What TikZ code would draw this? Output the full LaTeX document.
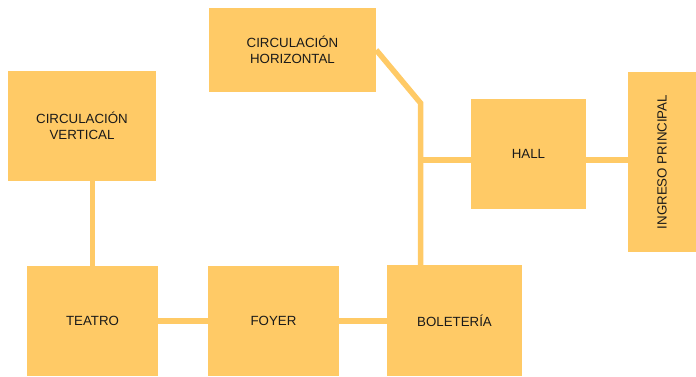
\documentclass[tikz,border=0pt]{standalone}
\usepackage{fontspec}
\setmainfont{Liberation Sans}
\usepackage{tikz}
\usetikzlibrary{positioning, calc}

\definecolor{zona}{HTML}{FFCA66}
\definecolor{texto}{HTML}{1A1A1A}

\begin{document}
\begin{tikzpicture}[x=1pt, y=-1pt,
        box/.style={rectangle, fill=zona, inner sep=0pt, align=center, text=texto, font=\fontsize{13.3}{15.8}\selectfont},
        link/.style={draw=zona, line width=5.5pt, line join=miter}
    ]
        \useasboundingbox (0,0) rectangle (696,377);

        % Boxes
        \node[box, minimum width=167, minimum height=84] (chor) at (292.5,50) {CIRCULACIÓN\\HORIZONTAL};
        \node[box, minimum width=148, minimum height=110] (cver) at (82,126) {CIRCULACIÓN\\VERTICAL};
        \node[box, minimum width=115, minimum height=110] (hall) at (528.5,154) {HALL};
        \node[box, minimum width=180, minimum height=68, rotate=90] (ingreso) at (662,162) {INGRESO PRINCIPAL};
        \node[box, minimum width=131, minimum height=110] (teatro) at (92.5,321) {TEATRO};
        \node[box, minimum width=131, minimum height=110] (foyer) at (273.5,321) {FOYER};
        \node[box, minimum width=135, minimum height=111] (boleteria) at (454.5,320.5) {BOLETERÍA};

        % Connectors
        \coordinate (bend) at (420.5,103);
        \coordinate (cruce) at (420.5,160);
        \draw[link] (chor.east) -- (bend) -- (bend |- boleteria.north);
        \draw[link] (cruce) -- (cruce -| hall.west);
        \draw[link] (cruce -| hall.east) -- (cruce -| ingreso.north);
        \draw[link] (teatro.north) -- (teatro.north |- cver.south);
        \draw[link] (teatro.east) -- (foyer.west);
        \draw[link] (foyer.east) -- (foyer.east -| boleteria.west);
    \end{tikzpicture}
\end{document}
